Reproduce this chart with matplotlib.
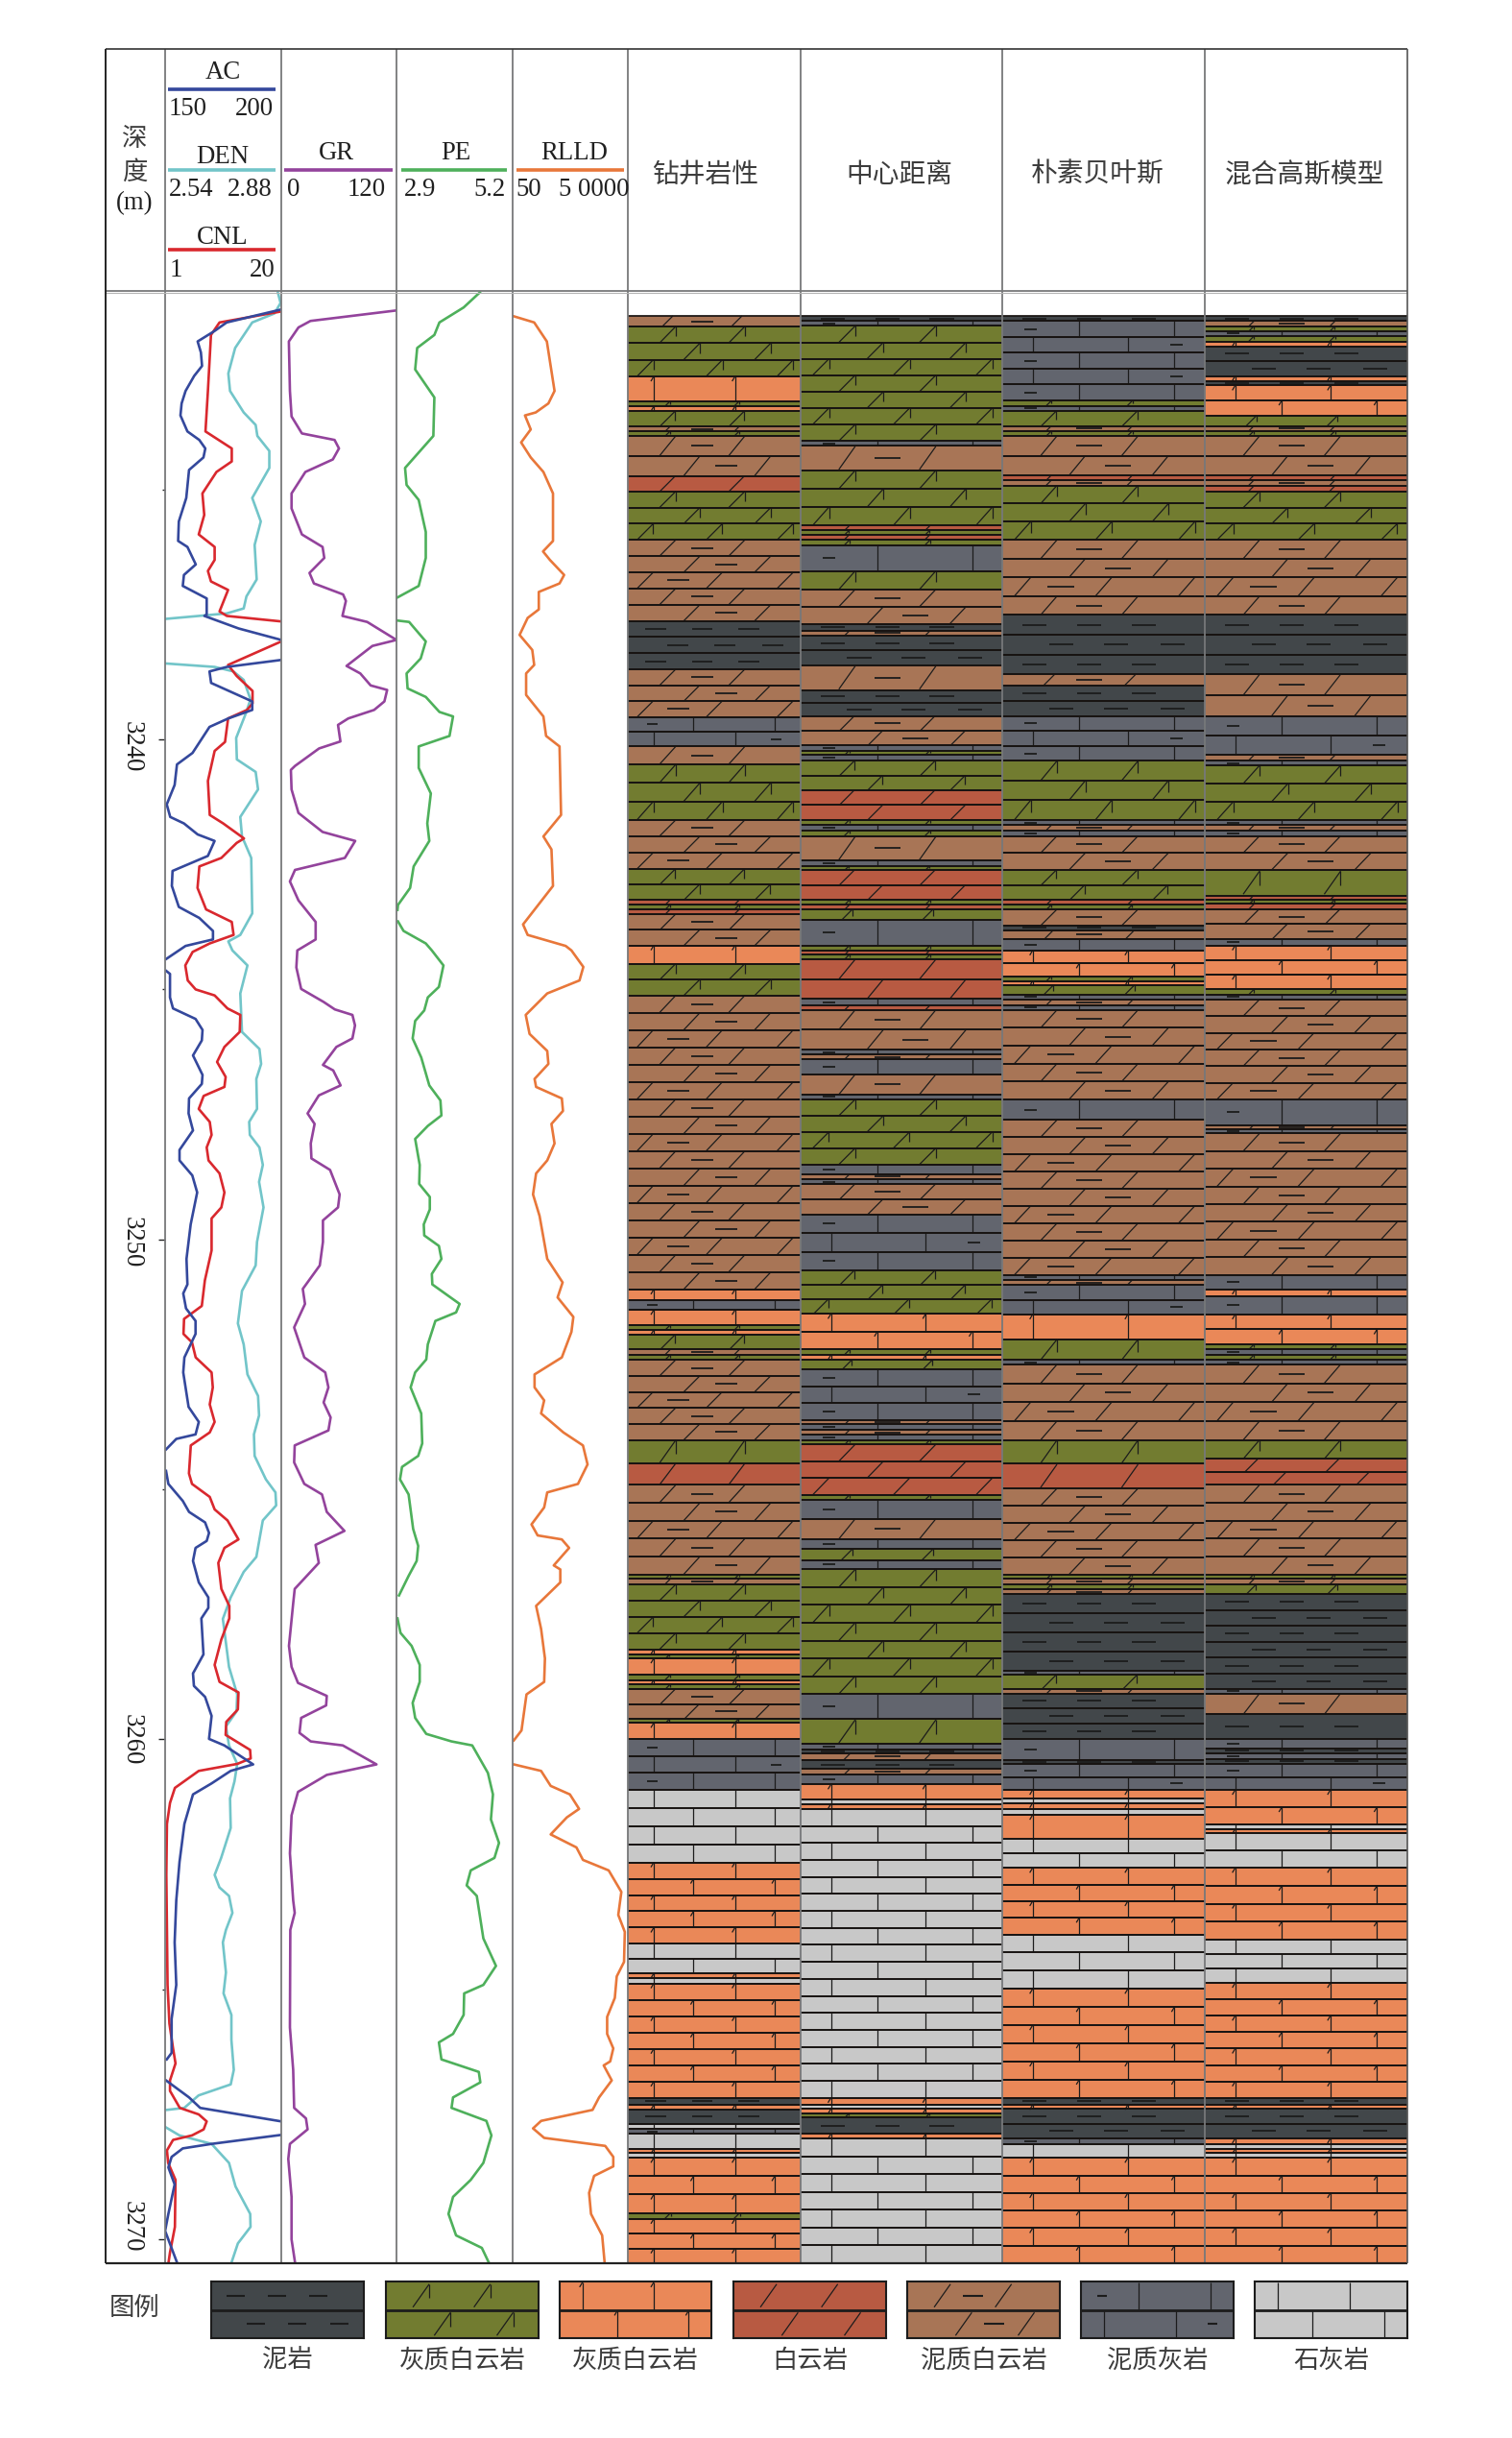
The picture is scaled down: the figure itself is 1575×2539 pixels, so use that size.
import numpy as np
import matplotlib
matplotlib.use("Agg")
import matplotlib.pyplot as plt
from matplotlib.patches import Rectangle
from matplotlib.lines import Line2D
from matplotlib.collections import LineCollection

nan = float("nan")
ORIGIN = 3200.0   # depths below are metres below 3200 m

# ---------------------------------------------------------------- curves
ac_depth = [31.40,31.66,31.83,32.04,32.26,32.53,32.73,33.03,33.28,33.52,33.84,34.01,34.18,34.36,34.61,35.17,35.64,36.03,36.15,36.50,36.71,36.93,37.18,37.50,37.53,37.78,38.01,nan,
            38.41,38.55,38.64,38.87,39.24,39.41,39.58,39.75,40.27,40.50,40.91,41.30,41.55,41.68,41.90,42.03,42.33,42.63,42.93,43.35,43.57,43.83,44.00,44.13,44.39,nan,
            44.63,44.69,45.16,45.38,45.59,45.81,46.02,46.32,46.71,46.89,47.18,47.48,47.82,48.21,48.42,48.72,49.06,49.70,50.39,50.90,51.08,51.38,51.63,51.89,52.36,52.66,53.35,53.65,53.90,53.99,54.20,nan,
            54.63,54.89,55.23,55.45,55.66,55.87,56.03,56.17,56.43,56.86,57.16,57.37,57.58,58.30,58.68,58.93,59.15,59.53,59.99,60.12,60.50,60.63,60.88,61.10,61.69,62.45,63.22,64.06,64.91,65.59,66.27,66.40,nan,
            66.82,67.16,67.37,67.64,nan,67.91,68.09,68.18,68.35,68.56,68.90,69.49,69.83,70.51]
ac_value = [200,176.5,171.3,164,165.4,165.9,162.5,158.8,157.1,156.6,159.6,164.7,167.3,166.5,160.3,159.1,155.9,155.6,159.6,163.2,158.1,157.6,167.9,167.9,166.9,181.6,200,nan,
            200,176.5,169.1,169.8,187.5,187.5,177.2,169.1,161.8,155.1,154.1,150.7,152.2,158.1,164,171.3,168.4,153.2,152.9,155.9,164.7,170.6,170.6,158.8,150.5,nan,
            150.5,152.1,152.1,153.4,163.1,166.1,165.8,162,166.1,165.8,160.3,160.1,162,156.2,156.2,161.7,163.8,161,159.2,159.6,157.8,159,163.1,163.1,158.3,157.8,160.1,164.5,163.1,154.8,150.4,nan,
            150.4,151.4,157.6,160.3,167.2,168.9,167.9,163.1,162,164.5,168.6,168.6,165.6,166.5,162,162.4,167.2,170,168.9,175.5,187.9,178.2,170,162,158.3,156.2,154.8,154.1,154.8,152.8,152.8,150.7,nan,
            150.4,160.3,165.1,200,nan,200,170,157.6,152.8,151.4,154.1,151.4,150,155.5]

cnl_depth = [31.44,31.66,31.91,33.03,33.84,34.18,34.44,34.65,35.08,35.51,35.90,36.15,36.41,36.63,36.84,37.01,37.44,37.53,37.64,nan,
             38.04,38.51,38.73,39.03,39.28,39.41,39.58,40.05,40.23,40.83,41.51,41.68,41.98,42.07,42.37,42.54,42.97,43.40,43.65,43.91,44.08,44.25,
             44.52,44.82,45.0,45.12,45.38,45.51,45.85,46.15,46.45,46.75,46.95,47.13,47.39,47.65,47.91,48.16,48.42,48.68,49.06,49.36,49.58,50.22,50.82,51.33,51.59,51.89,52.06,52.36,52.66,52.96,53.30,53.65,53.86,54.12,54.68,54.89,55.15,55.40,55.62,56.0,56.17,56.47,56.99,57.33,
             57.58,58.0,58.51,58.85,59.06,59.40,59.65,59.91,60.21,60.38,60.49,60.63,60.97,61.27,61.69,62.71,64.91,65.68,66.18,66.48,66.82,67.03,67.37,67.5,67.64,67.8,67.92,68.01,68.22,68.47,68.81,69.75,70.26,70.51]
cnl_value = [20,9.9,8.5,8,7.6,11.9,11.9,9.4,7.1,7.4,6.5,9.1,9.1,8,8.5,11.3,9.9,11.1,20,nan,
             20,11.3,12.7,15.3,15.3,14.4,11.3,10.8,9.1,8,8.3,10.5,13.9,12.7,10.2,6.6,6.3,7.7,11.9,12.2,8.3,5.5,
             4.3,4.7,6,9.1,11.2,13.3,13.2,10.7,9.5,10.9,10.7,7.3,6.5,8.3,8.6,7.8,8.1,9.9,10.7,10.2,8.6,8.6,7.5,7,4.1,4,5.4,6,8.6,8.8,8.3,9.1,8.3,5.2,4.9,5.4,8.3,9.1,11.2,13,10.7,9.7,10.2,11.5,
             11.5,10.2,9.1,9.9,13,12.9,11.0,10.9,14.9,15,12.8,6.5,2.6,1.8,1.3,1.2,1.4,1.7,2.3,2.7,1.8,1.8,3.4,6.5,7.8,7.3,5.4,2.3,1.3,1.5,2.7,2.6,1.8,1.5]

den_depth = [31.06,31.27,31.48,31.66,32.17,32.68,33.03,33.46,33.71,33.93,34.23,34.57,35.17,35.64,36.11,36.80,37.14,37.38,37.48,37.59,nan,
             38.48,38.55,38.64,38.81,39.20,39.50,39.97,40.40,40.65,41.0,41.55,41.94,42.37,43.48,43.91,44.04,
             44.22,44.52,45.08,45.85,46.19,46.49,46.79,47.39,47.65,47.91,48.16,48.51,48.85,49.36,50.05,50.52,51.03,51.68,52.10,52.70,53.13,53.52,53.90,54.33,54.80,55.06,55.32,55.62,56.35,56.65,57.16,57.59,
             58.55,59.10,59.44,59.74,60.12,60.49,60.84,61.18,61.77,62.37,62.71,62.96,63.13,63.47,63.81,64.06,64.66,65.08,65.51,66.01,66.61,66.90,67.12,67.37,67.41,nan,
             67.75,67.92,68.09,68.47,68.94,69.49,69.75,70.08,70.51]
den_value = [2.87,2.878,2.86,2.795,2.745,2.725,2.73,2.77,2.805,2.81,2.845,2.845,2.795,2.82,2.802,2.808,2.778,2.77,2.72,2.54,nan,
             2.54,2.685,2.74,2.77,2.79,2.775,2.748,2.75,2.805,2.812,2.76,2.765,2.792,2.795,2.76,2.725,
             2.737,2.781,2.76,2.765,2.816,2.821,2.807,2.809,2.786,2.788,2.816,2.826,2.815,2.828,2.809,2.805,2.765,2.753,2.77,2.781,2.812,2.815,2.8,2.802,2.835,2.863,2.865,2.826,2.807,2.77,2.732,2.709,
             2.727,2.751,2.749,2.718,2.727,2.751,2.743,2.73,2.732,2.704,2.685,2.699,2.727,2.737,2.718,2.709,2.718,2.711,2.734,2.734,2.741,2.732,2.638,2.596,2.545,nan,
             2.54,2.582,2.676,2.727,2.746,2.789,2.79,2.753,2.732]

gr_depth = [31.42,31.63,31.76,32.04,33.03,33.54,33.88,34.01,34.18,34.40,34.65,35.08,35.38,35.90,36.15,36.37,36.67,36.88,37.10,37.23,37.53,37.65,38.01,38.13,38.53,38.68,38.92,39.01,39.24,39.41,39.58,39.71,40.04,40.18,40.53,40.61,41.0,41.47,41.85,42.03,42.37,42.61,42.84,43.22,43.65,44.0,
            44.22,44.56,44.99,45.25,45.40,45.51,45.72,45.98,46.15,46.51,46.62,46.92,47.12,47.48,47.69,48.08,48.38,48.61,49.10,49.36,49.62,50.05,50.52,50.99,51.29,51.76,52.36,52.66,52.96,53.26,53.56,53.82,54.12,54.46,54.89,55.10,55.45,55.83,56.11,56.47,56.99,
            57.28,58.13,58.55,58.87,59.13,59.32,59.57,59.87,60.04,60.12,60.50,60.71,61.05,61.52,62.28,63.22,63.47,63.81,65.76,66.61,67.37,67.58,67.80,68.09,68.39,69.15,70.0,70.51]
gr_value = [120,30.4,17.9,7.9,9,10.7,21.5,55.5,60.1,53.7,25.1,10.7,10.7,21.5,43,44.8,29.4,34,64.4,67.3,63.7,89.5,120,94.9,68,82.3,93.1,110.3,107.4,96.7,69.8,59.1,61.6,39.4,14.3,10,10.7,17.9,43,77,66.2,14.3,9,17.9,35.8,35.8,
            16.7,15.7,20.7,44.1,55.8,74.1,76.8,74.1,57.4,43.4,54.1,61.8,39.1,27.4,34.7,30.7,31.4,50.8,60.8,59.1,43.4,43.4,40.1,22.4,24.7,13.4,24,45.8,49.1,44.1,51.4,49.1,14,13.4,24,42.4,47.4,65.8,35.7,39.1,14,
            12.4,8,10.7,17.4,47.4,46.7,20.7,19,30.7,64.1,99.2,47.4,17.4,10.7,9,12.4,14,9.4,9,12.4,13.4,25.7,27.4,9,7.3,10.7,10.7,14.7]

pe_depth = [31.06,31.36,31.66,31.91,32.17,32.60,33.16,33.93,34.57,34.91,35.21,35.85,36.37,36.93,37.16,nan,
            37.62,37.65,38.04,38.38,38.68,38.98,39.15,39.45,39.54,39.93,40.14,40.57,41.08,41.68,42.03,42.54,42.97,43.31,43.41,nan,
            43.64,43.83,44.08,44.22,44.52,44.95,45.16,45.42,45.63,45.98,46.36,46.92,47.22,47.52,47.73,47.99,48.51,48.89,49.15,49.40,49.70,49.92,50.13,50.39,50.69,50.90,51.29,51.46,51.63,52.10,52.40,52.66,52.96,53.48,54.08,54.33,54.55,54.80,55.10,55.79,56.13,56.43,56.73,57.12,nan,
            57.58,57.87,58.13,58.51,58.85,59.27,59.57,59.89,60.04,60.12,60.67,61.10,61.60,62.07,62.37,62.62,62.92,63.13,63.98,64.53,64.91,65.08,65.51,65.89,66.06,66.40,66.65,66.86,67.16,67.37,67.63,67.92,68.47,68.81,69.15,69.49,69.92,70.17,70.51]
pe_value = [4.55,4.23,3.75,3.65,3.31,3.27,3.65,3.63,3.07,3.10,3.34,3.48,3.48,3.34,2.92,nan,
            2.9,3.15,3.48,3.38,3.10,3.12,3.48,3.75,4.02,3.95,3.34,3.34,3.58,3.51,3.55,3.24,3.17,2.93,2.92,nan,
            2.93,3.04,3.48,3.6,3.83,3.74,3.52,3.45,3.27,3.22,3.39,3.55,3.77,3.79,3.52,3.27,3.36,3.35,3.56,3.56,3.44,3.45,3.74,3.79,3.6,3.61,4.15,4.08,3.67,3.52,3.49,3.27,3.18,3.39,3.41,3.33,3.01,2.97,3.14,3.23,3.33,3.3,3.14,2.95,nan,
            2.92,2.98,3.2,3.36,3.36,3.22,3.27,3.49,3.99,4.4,4.71,4.81,4.77,4.93,4.84,4.37,4.29,4.49,4.62,4.87,4.62,4.24,4.23,4.02,3.74,3.79,4.53,4.56,4.02,3.99,4.68,4.78,4.62,4.37,4.02,3.93,4.08,4.59,4.75]

rlld_depth = [31.53,31.66,32.04,33.03,33.28,33.46,33.52,33.80,34.06,34.36,34.65,35.08,36.03,36.24,36.41,36.71,36.88,37.05,37.40,37.57,37.91,38.21,38.51,38.68,39.11,39.54,39.93,40.14,41.51,41.94,42.20,42.93,43.70,43.91,44.13,
              44.22,44.55,44.82,45.08,45.51,45.89,46.23,46.49,46.79,46.95,47.18,47.43,47.69,48.08,48.42,48.68,49.10,49.53,50.39,50.86,51.16,51.55,51.85,52.36,52.70,52.96,53.22,53.48,53.86,54.12,54.50,54.89,55.06,55.36,55.70,55.92,56.0,56.17,56.52,56.60,56.86,57.33,
              57.79,58.38,58.85,59.10,59.82,60.02,nan,
              60.50,60.63,60.93,61.10,61.39,61.56,61.90,62.16,62.41,62.62,63.05,63.51,63.85,64.45,64.74,65.17,65.55,65.89,66.18,66.44,66.52,66.82,67.16,67.41,67.63,67.78,67.97,68.13,68.35,68.54,68.73,69.07,69.49,69.92,70.51]
rlld_log10 = [1.7,2.26,2.59,2.79,2.63,2.30,2.02,2.17,1.92,2.17,2.50,2.75,2.75,2.49,2.67,3.04,2.92,2.38,2.38,2.09,1.88,2.21,2.26,2.05,2.05,2.50,2.57,2.92,2.96,2.50,2.71,2.75,1.97,2.09,3.08,
              3.23,3.54,3.44,2.6,2.04,2.14,2.6,2.63,2.27,2.31,2.98,3.01,2.71,2.79,2.6,2.31,2.23,2.4,2.6,3.0,2.87,3.28,3.23,2.98,2.27,2.27,2.52,2.44,3.02,3.53,3.65,3.4,2.6,2.52,2.19,2.35,2.98,3.17,2.77,2.94,2.94,2.31,
              2.44,2.54,2.52,2.06,1.93,1.73,nan,
              1.73,2.44,2.69,3.19,3.43,3.11,2.69,3.36,3.53,4.2,4.53,4.45,4.62,4.6,4.41,4.36,4.16,4.16,4.32,4.24,4.07,4.28,3.95,3.78,2.44,2.23,2.52,4.11,4.32,4.32,3.82,3.69,3.74,4.03,4.1]

# ---------------------------------------------------------------- lithology logs: (rock, base depth)
drill_log = [("B",31.74),("G",32.74),("O",33.23),("G",33.34),("O",33.43),("G",33.74),("B",33.84),("G",33.93),("B",34.73),("R",35.04),("G",36.01),("B",37.63),("M",38.60),("B",39.55),("S",40.14),("B",40.50),("G",41.61),("B",42.59),("G",43.21),("R",43.31),("G",43.40),("R",43.50),("B",44.12),("O",44.49),("G",45.12),("B",51.0),("O",51.22),("S",51.41),("O",51.72),("G",51.81),("O",51.91),("G",52.20),("B",52.31),("G",52.41),("B",54.01),("G",54.48),("R",54.91),("B",56.70),("G",56.79),("B",56.90),("G",58.20),("O",58.30),("G",58.38),("O",58.71),("G",58.81),("O",58.90),("G",59.0),("B",59.59),("G",59.67),("O",59.99),("S",61.01),("L",62.46),("O",64.09),("L",64.68),("O",64.78),("L",64.88),("O",67.17),("M",67.31),("O",67.40),("M",67.69),("L",67.79),("S",67.89),("L",68.19),("O",68.27),("L",68.37),("O",69.47),("G",69.59),("O",70.48)]

center_log = [("M",31.63),("S",31.73),("G",34.03),("S",34.12),("B",34.62),("G",35.72),("R",35.82),("G",35.90),("R",36.0),("G",36.12),("S",36.63),("G",37.0),("B",37.69),("M",37.83),("B",37.92),("M",38.52),("B",39.01),("M",39.53),("B",40.12),("S",40.22),("G",40.31),("S",40.43),("G",41.01),("R",41.61),("G",41.70),("S",41.82),("G",41.93),("B",42.42),("S",42.53),("G",42.61),("R",43.21),("G",43.31),("R",43.40),("G",43.61),("S",44.12),("G",44.22),("R",44.30),("G",44.40),("R",45.19),("S",45.32),("R",45.41),("B",46.20),("S",46.30),("B",46.40),("S",46.70),("B",47.10),("S",47.20),("G",48.50),("S",48.69),("B",48.80),("S",48.90),("B",49.50),("S",50.62),("G",51.49),("O",52.20),("G",52.31),("O",52.41),("G",52.60),("S",53.61),("B",53.70),("S",53.81),("B",53.91),("S",54.01),("G",54.10),("R",55.11),("G",55.21),("S",55.59),("B",55.99),("S",56.19),("G",56.41),("S",56.60),("G",59.09),("S",59.59),("G",60.09),("S",60.20),("M",60.28),("B",60.41),("M",60.59),("B",60.70),("S",60.90),("O",61.2),("L",61.29),("O",61.39),("L",67.17),("O",67.31),("L",67.39),("O",67.48),("G",67.56),("M",67.89),("O",67.98),("L",70.48)]

bayes_log = [("M",31.63),("S",33.22),("G",33.33),("S",33.43),("G",33.73),("B",33.83),("G",33.93),("B",34.72),("R",34.81),("B",34.92),("G",36.01),("B",37.51),("M",38.70),("B",38.93),("M",39.53),("S",40.43),("G",41.61),("S",41.71),("B",41.82),("S",41.93),("B",42.61),("G",43.21),("R",43.31),("G",43.40),("B",43.72),("M",43.82),("B",43.99),("S",44.22),("O",44.74),("G",44.83),("O",44.91),("G",45.10),("S",45.21),("B",45.32),("S",45.41),("B",47.20),("S",47.61),("B",50.71),("S",50.81),("B",50.91),("S",51.50),("O",52.0),("G",52.41),("S",52.50),("B",54.01),("G",54.48),("R",54.98),("B",56.70),("G",56.79),("B",56.90),("G",57.0),("B",57.09),("M",58.62),("S",58.71),("G",59.0),("B",59.08),("M",59.99),("S",60.41),("M",60.49),("S",61.01),("O",61.18),("L",61.27),("O",61.39),("L",61.51),("O",61.98),("L",62.57),("O",63.90),("L",64.99),("O",67.17),("M",67.31),("O",67.39),("M",67.98),("S",68.09),("L",68.37),("O",70.48)]

gmm_log = [("M",31.63),("B",31.74),("G",31.83),("S",31.93),("G",32.04),("O",32.14),("M",32.73),("O",32.84),("M",32.92),("O",33.52),("G",33.73),("B",33.83),("G",33.93),("B",34.72),("R",34.81),("B",34.92),("R",35.04),("G",36.01),("B",37.51),("M",38.70),("B",39.53),("S",40.31),("B",40.42),("S",40.52),("G",41.61),("S",41.71),("B",41.82),("S",41.93),("B",42.61),("G",43.12),("R",43.21),("G",43.29),("R",43.40),("B",43.99),("S",44.12),("O",45.0),("G",45.10),("S",45.20),("B",47.20),("S",47.71),("B",47.80),("S",47.88),("B",50.71),("S",51.0),("O",51.13),("S",51.50),("O",52.10),("G",52.20),("S",52.31),("G",52.41),("S",52.50),("B",54.01),("G",54.39),("R",54.91),("B",56.70),("G",56.79),("B",56.90),("G",57.09),("M",59.0),("S",59.08),("B",59.50),("M",59.99),("S",60.18),("M",60.28),("S",60.39),("M",60.49),("S",61.01),("O",61.70),("L",61.79),("O",61.87),("L",62.57),("O",64.0),("L",64.87),("O",67.17),("M",67.31),("O",67.39),("M",67.98),("O",68.09),("L",68.19),("O",68.27),("L",68.37),("O",70.48)]

COLUMN_NAMES = ["钻井岩性", "中心距离", "朴素贝叶斯", "混合高斯模型"]
LEGEND_CODES = list("MGORBSL")
LEGEND_NAMES = ["泥岩", "灰质白云岩", "灰质白云岩", "白云岩", "泥质白云岩", "泥质灰岩", "石灰岩"]
MAJOR_DEPTHS = [3240, 3250, 3260, 3270]
MINOR_DEPTHS = [3235, 3245, 3255, 3265]

# ---------------------------------------------------------------- layout
W, H = 1575, 2539
LATIN = "Liberation Serif"
CJK = "Noto Sans CJK SC"
plt.rcParams["font.family"] = [LATIN, CJK, "DejaVu Sans"]
fig = plt.figure(figsize=(W / 100, H / 100), dpi=100, facecolor="white")

FRAME_TOP, HEAD_BOTTOM, FRAME_BOTTOM = 51, 303, 2357
FRAME_LEFT, FRAME_RIGHT = 110, 1466
TRACK_X = [172, 293, 413, 534, 654]
LITH_X = [654, 834, 1044, 1255, 1466]
NAME_X = [735, 937, 1143, 1359]
LABEL_SHIFT = [.14, .06, 0, -.25]
DEPTH_TOP = 3231.03
DEPTH_BOTTOM = DEPTH_TOP + (FRAME_BOTTOM - HEAD_BOTTOM) / 52.07
LITH_START = 3231.53
GRAY = "#77787a"
INK = "#1c1c1c"
CJKINK = "#3c3c3c"
FILL = {"M": "#42474a", "G": "#727c30", "O": "#ea8858", "R": "#b85a42",
        "B": "#a87556", "S": "#62656e", "L": "#c8c8c8"}
ROW_M = 0.345
SLASH_X = [(.23, .63), (.37, .78), (.10, .50, .91)]
DASH_X = [.43, .57, .29]
BRICK_X = [(.15, .62), (.38, .85)]
MUD_X = [(.16, .43, .70), (.29, .56, .84)]


def ax_px(x0, y0, x1, y1):
    a = fig.add_axes([x0 / W, 1 - y1 / H, (x1 - x0) / W, (y1 - y0) / H])
    a.patch.set_alpha(0)
    for s in a.spines.values():
        s.set_visible(False)
    return a


def T(x, y, s, **kw):
    kw.setdefault("ha", "center")
    kw.setdefault("va", "center")
    kw.setdefault("fontsize", 19.3)
    kw.setdefault("color", "#202020")
    fig.text(x / W, 1 - y / H, s, **kw)


def L(x0, y0, x1, y1, color=GRAY, lw=1.3):
    fig.add_artist(Line2D([x0 / W, x1 / W], [1 - y0 / H, 1 - y1 / H], color=color, lw=lw,
                          solid_capstyle="butt"))


def row_marks(code, i, top, bot, wpx, pxm, segs, thin):
    """Pattern of one bed row, in axis-x (0-1) and y data units."""
    hpx = abs(bot - top) * pxm
    sign = 1 if bot > top else -1
    if code in "GRB":
        ph = i % 3
        dx = min(hpx, 17) / wpx
        dy = min(hpx, 24) / pxm * sign
        mid = (top + bot) / 2
        for xc in SLASH_X[ph]:
            segs.append([(xc - dx / 2, mid + dy / 2), (xc + dx / 2, mid - dy / 2)])
            if code == "G":
                segs.append([(xc + dx / 2, mid - dy / 2), (xc + dx / 2, mid - dy / 2 + dy * .6)])
        if code == "B":
            xc = DASH_X[ph]
            thin.append([(xc - .065, mid), (xc + .065, mid)])
    elif code == "M":
        mid = (top + bot) / 2
        for xc in MUD_X[i % 2]:
            thin.append([(xc - .06, mid), (xc + .06, mid)])
    elif code in "OL":
        for xc in BRICK_X[i % 2]:
            segs.append([(xc, top), (xc, bot)])
            if code == "O":
                t = 5 / pxm * sign
                segs.append([(xc - 3 / wpx, top + t), (xc, top)])
    elif code == "S":
        for xc in BRICK_X[(i + 1) % 2]:
            segs.append([(xc, top), (xc, bot)])
        mid = (top + bot) / 2
        xc = .14 if i % 2 == 0 else .86
        thin.append([(xc - .03, mid), (xc + .03, mid)])


def draw_log(ax, log, wpx):
    pxm = (FRAME_BOTTOM - HEAD_BOTTOM) / (DEPTH_BOTTOM - DEPTH_TOP)
    segs, thin, rules = [], [], []
    top = LITH_START
    for code, base in log:
        base = min(ORIGIN + base, DEPTH_BOTTOM)
        n = max(1, int(round((base - top) / ROW_M)))
        edges = np.linspace(top, base, n + 1)
        for i in range(n):
            ax.add_patch(Rectangle((0, edges[i]), 1, edges[i + 1] - edges[i], fc=FILL[code],
                                   ec="none", zorder=1))
            row_marks(code, i, edges[i], edges[i + 1], wpx, pxm, segs, thin)
            rules.append([(0, edges[i]), (1, edges[i])])
            rules.append([(0, edges[i + 1]), (1, edges[i + 1])])
        top = base
    ax.add_collection(LineCollection(segs, colors=INK, linewidths=0.9, zorder=2))
    ax.add_collection(LineCollection(thin, colors=INK, linewidths=1.3, zorder=2))
    ax.add_collection(LineCollection(rules, colors="#181412", linewidths=1.25, zorder=3))


# ---------------------------------------------------------------- tracks
def track(i, xlim, depth, value, color, log=False):
    a = ax_px(TRACK_X[i], HEAD_BOTTOM, TRACK_X[i + 1], FRAME_BOTTOM)
    if log:
        a.set_xscale("log")
    a.set_xlim(*xlim)
    a.set_ylim(DEPTH_BOTTOM, DEPTH_TOP)
    a.plot(value, ORIGIN + np.array(depth), color=color, lw=1.9, solid_joinstyle="round")
    a.set_xticks([]); a.set_xticks([], minor=True)
    a.set_yticks([])
    return a


track(0, (2.54, 2.88), den_depth, den_value, "#72c5c9")
track(0, (1, 20), cnl_depth, cnl_value, "#d9282e")
base = track(0, (150, 200), ac_depth, ac_value, "#34489c")
track(1, (0, 120), gr_depth, gr_value, "#93439c")
track(2, (2.9, 5.2), pe_depth, pe_value, "#4eb05b")
track(3, (50, 50000), rlld_depth, 10 ** np.array(rlld_log10), "#e8773a", log=True)

base.set_yticks(MAJOR_DEPTHS)
base.set_yticklabels([])
base.set_yticks(MINOR_DEPTHS, minor=True)
base.tick_params(axis="y", which="major", length=5, width=1.0, color="#222", pad=0)
base.tick_params(axis="y", which="minor", length=2.5, width=1.0, color="#222")
for d, shift in zip(MAJOR_DEPTHS, LABEL_SHIFT):
    base.text(-35 / 121, d + shift, str(d), transform=base.get_yaxis_transform(), rotation=-90,
              ha="center", va="center", fontsize=19.3, color="#202020")

# ---------------------------------------------------------------- lithology columns
logs = [drill_log, center_log, bayes_log, gmm_log]
for k, log in enumerate(logs):
    a = ax_px(LITH_X[k], HEAD_BOTTOM, LITH_X[k + 1], FRAME_BOTTOM)
    a.set_xlim(0, 1)
    a.set_ylim(DEPTH_BOTTOM, DEPTH_TOP)
    a.set_xticks([]); a.set_yticks([])
    draw_log(a, log, LITH_X[k + 1] - LITH_X[k])
    T(NAME_X[k], 182, COLUMN_NAMES[k], fontsize=20, color=CJKINK, family=CJK, fontweight="light")

# ---------------------------------------------------------------- frame
for x in TRACK_X + LITH_X[1:-1]:
    L(x, FRAME_TOP, x, FRAME_BOTTOM)
L(FRAME_LEFT, HEAD_BOTTOM, FRAME_RIGHT, HEAD_BOTTOM)
L(FRAME_LEFT, HEAD_BOTTOM + 2, FRAME_RIGHT, HEAD_BOTTOM + 2, color="#b5b5b5", lw=0.8)
L(FRAME_LEFT, FRAME_TOP, FRAME_RIGHT, FRAME_TOP, color="#333", lw=1.2)
L(FRAME_LEFT, FRAME_BOTTOM, FRAME_RIGHT, FRAME_BOTTOM, color="#222", lw=1.6)
L(FRAME_LEFT, FRAME_TOP, FRAME_LEFT, FRAME_BOTTOM, color="#222", lw=1.4)
L(FRAME_RIGHT, FRAME_TOP, FRAME_RIGHT, FRAME_BOTTOM, color="#555", lw=1.2)

# ---------------------------------------------------------------- header
for s, y in [("深", 144), ("度", 179)]:
    T(140, y, s, color=CJKINK, family=CJK, fontsize=19, fontweight="light")
T(140, 212, "(m)")

T(232, 75, "AC"); L(175, 93, 287, 93, "#34489c", 2.6)
T(176, 114, "150", ha="left"); T(285, 114, "200", ha="right")
T(232, 163, "DEN"); L(175, 177, 287, 177, "#72c5c9", 2.6)
T(176, 198, "2.54", ha="left"); T(284, 198, "2.88", ha="right")
T(232, 248, "CNL"); L(175, 260, 287, 260, "#d9282e", 2.6)
T(177, 281, "1", ha="left"); T(287, 281, "20", ha="right")

T(350, 160, "GR"); L(296, 177, 409, 177, "#93439c", 2.6)
T(299, 198, "0", ha="left"); T(402, 198, "120", ha="right")
T(475, 160, "PE"); L(418, 177, 528, 177, "#4eb05b", 2.6)
T(421, 198, "2.9", ha="left"); T(527, 198, "5.2", ha="right")
T(598, 160, "RLLD"); L(538, 177, 650, 177, "#e8773a", 2.6)
T(537, 198, "50", ha="left"); T(655, 198, "5 0000", ha="right")

# ---------------------------------------------------------------- legend
TILE_X = [(220, 379), (402, 561), (583, 741), (764, 923), (945, 1104), (1126, 1285), (1307, 1466)]
T(140, 2403, "图例", family=CJK, color=CJKINK, fontsize=19, fontweight="light")
for (x0, x1), code, name in zip(TILE_X, LEGEND_CODES, LEGEND_NAMES):
    a = ax_px(x0, 2376, x1, 2435)
    a.set_xlim(0, 1)
    a.set_ylim(2, 0)
    a.set_xticks([]); a.set_yticks([])
    a.add_patch(Rectangle((0, 0), 1, 2, fc=FILL[code], ec="none"))
    segs, thin = [], []
    for i in range(2):
        row_marks(code, i, i + 0.03, i + 0.97, x1 - x0, 29.5, segs, thin)
    a.add_collection(LineCollection(segs, colors=INK, linewidths=0.9))
    a.add_collection(LineCollection(thin, colors=INK, linewidths=1.5))
    a.plot([0, 1], [1, 1], color=INK, lw=2)
    for s in a.spines.values():
        s.set_visible(True)
        s.set_color(INK)
        s.set_linewidth(1.5)
    T((x0 + x1) / 2, 2458, name, family=CJK, color=CJKINK, fontsize=19, fontweight="light")

fig.savefig("out.png", dpi=100, facecolor="white")
